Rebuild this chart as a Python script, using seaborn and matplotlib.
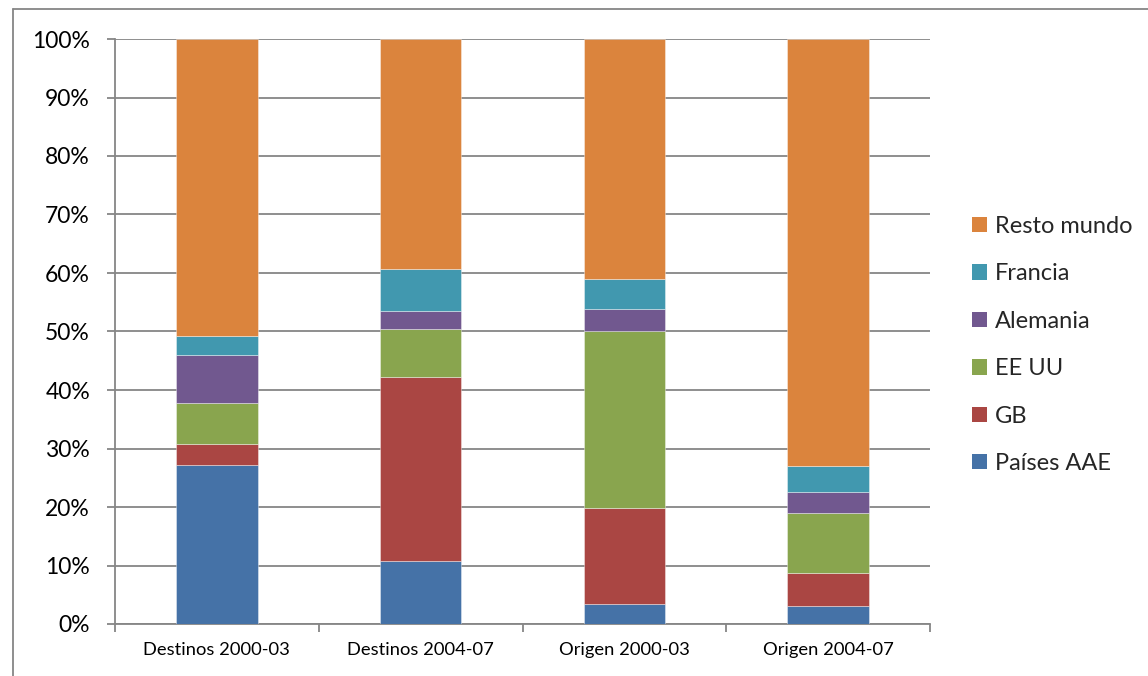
import matplotlib
matplotlib.use("Agg")
import matplotlib.pyplot as plt
from matplotlib.patches import Patch
from matplotlib.lines import Line2D
from matplotlib.ticker import MultipleLocator, FixedLocator, PercentFormatter
import numpy as np
import pandas as pd
import seaborn as sns

categories = ["Destinos 2000-03", "Destinos 2004-07", "Origen 2000-03", "Origen 2004-07"]
series_names = ["Países AAE", "GB", "EE UU", "Alemania", "Francia", "Resto mundo"]
paises_aae = [27.1, 10.8, 3.4, 3.1]
gb = [3.7, 31.4, 16.4, 5.7]
ee_uu = [6.9, 8.3, 30.3, 10.2]
alemania = [8.3, 3.0, 3.7, 3.6]
francia = [3.2, 7.2, 5.1, 4.4]
resto_mundo = [50.8, 39.3, 41.1, 73.0]
colors = ["#4572A7", "#AA4643", "#89A54E", "#71588F", "#4198AF", "#DB843D"]

sns.set_style("white")
plt.rcParams["font.family"] = ["Lato", "DejaVu Sans"]

series = [paises_aae, gb, ee_uu, alemania, francia, resto_mundo]
df = pd.DataFrame({"categoria": np.repeat(categories, len(series_names)),
                   "serie": series_names * len(categories),
                   "valor": np.array(series).T.ravel()})

grid_col = "#868686"
fig = plt.figure(figsize=(11.48, 6.76), dpi=100)
ax = fig.add_axes([115 / 1148, 1 - 624 / 676, (930 - 115) / 1148, (624 - 39) / 676])

bottom = np.zeros(len(categories))
for name, col in zip(series_names, colors):
    sub = df[df["serie"] == name]
    vals = sub["valor"].to_numpy() / 100
    sns.barplot(x=sub["categoria"], y=vals, bottom=bottom, color=col, width=0.4,
                saturation=1, edgecolor=(1, 1, 1, 0.45), linewidth=0.6, ax=ax, zorder=3)
    bottom = bottom + vals

ax.set_xlim(-0.5, len(categories) - 0.5)
ax.set_ylim(0, 1)
ax.set_xlabel("")
ax.set_ylabel("")
ax.yaxis.set_major_locator(MultipleLocator(0.1))
ax.yaxis.set_major_formatter(PercentFormatter(1.0, decimals=0))
ax.grid(axis="y", color=grid_col, linewidth=1.3, zorder=0)
ax.set_axisbelow(True)
for side in ["top", "right"]:
    ax.spines[side].set_visible(False)
for side in ["left", "bottom"]:
    ax.spines[side].set_color(grid_col)
    ax.spines[side].set_linewidth(1.3)

ax.tick_params(axis="y", which="major", length=6, width=1.3, color=grid_col,
               labelsize=16.5, pad=12, left=True, labelcolor="black")
ax.tick_params(axis="x", which="major", length=0, labelsize=13.2, pad=13, labelcolor="black")
ax.xaxis.set_minor_locator(FixedLocator(np.arange(-0.5, len(categories), 1.0)))
ax.tick_params(axis="x", which="minor", length=6, width=1.3, color=grid_col, bottom=True)

handles = [Patch(facecolor=c, edgecolor="none") for c in colors]
leg = fig.legend(handles[::-1], series_names[::-1], loc="center left",
                 bbox_to_anchor=(972 / 1148, 1 - 345 / 676), frameon=False,
                 fontsize=17, handlelength=0.62, handleheight=0.62,
                 handletextpad=0.35, labelspacing=1.12, borderpad=0, borderaxespad=0)

# outer chart frame
fig.add_artist(Line2D([13 / 1148, 13 / 1148], [0, 1 - 9 / 676], color=grid_col,
                      linewidth=1.3, transform=fig.transFigure))
fig.add_artist(Line2D([13 / 1148, 1], [1 - 9 / 676, 1 - 9 / 676], color=grid_col,
                      linewidth=1.3, transform=fig.transFigure))

fig.savefig("out.png", dpi=100)
